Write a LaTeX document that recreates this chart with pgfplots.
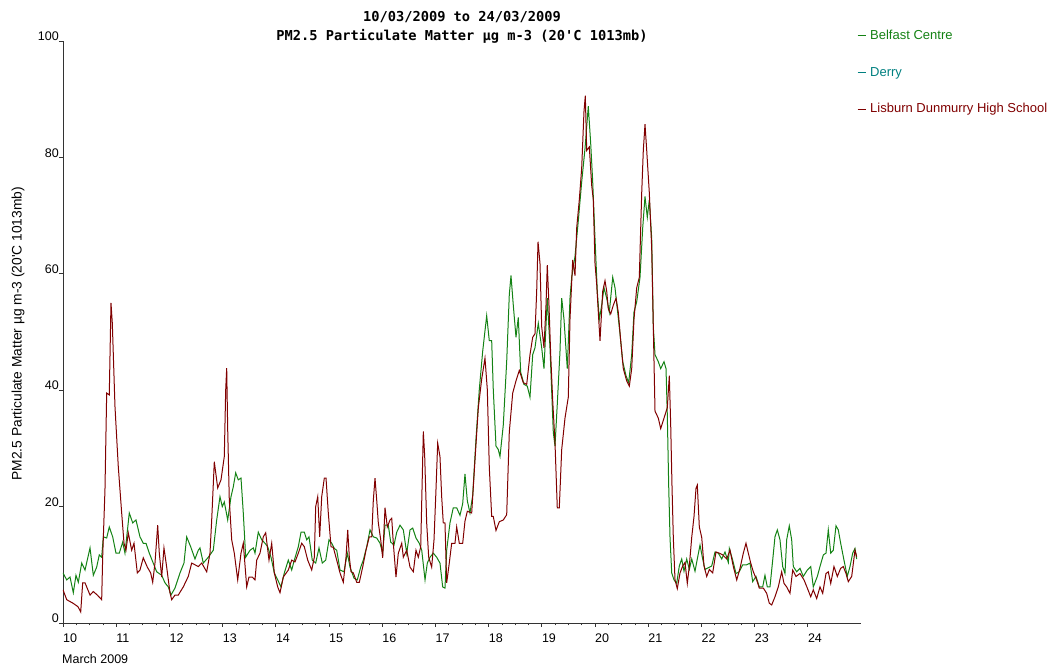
\documentclass[border=0pt]{standalone}
\usepackage{fontspec}
\usepackage{pgfplots}
\pgfplotsset{compat=1.18}
\newfontfamily\lab{Liberation Sans}
\newfontfamily\mono{DejaVu Sans Mono}
\definecolor{bgreen}{RGB}{20,130,20}
\definecolor{derryc}{RGB}{0,128,128}
\definecolor{lisb}{RGB}{128,0,0}
\begin{document}
\begin{tikzpicture}
\useasboundingbox (0,0) rectangle (1050pt,666pt);
\begin{axis}[
  scale only axis, width=798pt, height=582pt,
  at={(63pt,43pt)}, anchor=south west,
  xmin=10, xmax=25, ymin=0, ymax=100,
  axis x line=bottom, axis y line=left,
  axis line style={-, black!80, line width=0.8pt},
  tick style={black!80, line width=0.7pt},
  tick align=outside,
  xtick={10,...,24},
  minor x tick num=3,
  major tick length=4pt, minor tick length=2.5pt,
  ytick={0,20,...,100},
  /pgf/number format/assume math mode=true,
  ticklabel style={font=\lab\fontsize{12.5}{14}\selectfont},
  xticklabel style={anchor=north west, inner sep=0pt, yshift=-7pt},
  yticklabel style={anchor=south east, inner sep=0pt},
  title={10/03/2009 to 24/03/2009\\PM2.5 Particulate Matter µg m-3 (20'C 1013mb)},
  title style={font=\mono\bfseries\fontsize{13.7}{19}\selectfont, align=center, inner sep=0pt, at={(axis description cs:0.5,1)}, anchor=south, yshift=-8.5pt},
  ylabel={PM2.5 Particulate Matter µg m-3 (20'C 1013mb)},
  ylabel style={font=\lab\fontsize{13.8}{16}\selectfont, at={(axis description cs:-0.0564,0.497)}, anchor=center},
  legend style={at={(axis description cs:1,1)}, anchor=north west, draw=none, fill=none,
    font=\lab\fontsize{13}{15}\selectfont, row sep=23pt, inner sep=0pt, xshift=-4pt, yshift=12.5pt,
    nodes={inner sep=1.5pt}, /tikz/every odd column/.append style={column sep=2.5pt}},
  legend cell align=left,
  legend image code/.code={\draw[#1, line width=1pt] (0pt,0pt) -- (8pt,0pt);},
]
\addplot[bgreen, line width=1pt] coordinates {
(10.000,8.6)(10.070,7.4)(10.132,7.9)(10.194,5.2)(10.244,8.2)(10.288,7.0)(10.352,10.3)(10.414,9.1)(10.508,12.9)(10.570,8.2)(10.633,9.6)(10.682,11.7)(10.727,11.3)(10.758,14.8)(10.821,14.6)(10.870,16.5)(10.934,14.8)(10.996,12.0)(11.058,12.0)(11.122,13.9)(11.165,12.0)(11.246,18.9)(11.310,17.2)(11.372,17.7)(11.447,14.8)(11.509,13.7)(11.560,13.7)(11.622,12.0)(11.761,8.8)(11.855,8.2)(11.917,6.9)(11.979,6.2)(12.030,4.8)(12.105,6.0)(12.199,8.6)(12.274,10.3)(12.325,14.8)(12.400,13.1)(12.481,11.0)(12.543,12.5)(12.575,12.9)(12.637,10.3)(12.731,11.3)(12.825,12.5)(12.889,17.7)(12.951,21.7)(12.994,20.0)(13.032,20.8)(13.096,17.7)(13.158,21.7)(13.201,23.4)(13.246,25.8)(13.295,24.6)(13.346,24.9)(13.389,18.9)(13.434,11.3)(13.515,12.5)(13.577,12.9)(13.609,12.0)(13.671,15.6)(13.735,14.3)(13.797,13.7)(13.848,13.1)(13.910,11.3)(13.972,8.6)(14.036,7.4)(14.098,6.2)(14.160,8.6)(14.235,10.8)(14.299,9.1)(14.348,10.8)(14.423,13.1)(14.474,15.6)(14.536,15.6)(14.581,14.3)(14.624,14.8)(14.686,10.8)(14.750,10.3)(14.812,12.9)(14.874,10.3)(14.938,10.8)(15.000,14.3)(15.051,13.7)(15.100,12.8)(15.145,12.5)(15.207,9.1)(15.282,8.8)(15.344,12.0)(15.395,9.6)(15.470,7.7)(15.532,7.4)(15.596,9.6)(15.645,10.8)(15.709,13.1)(15.771,16.0)(15.833,14.8)(15.897,14.6)(15.959,13.7)(16.009,12.0)(16.053,16.8)(16.115,16.8)(16.160,13.9)(16.222,13.4)(16.273,15.6)(16.335,16.8)(16.397,16.0)(16.461,12.0)(16.523,16.0)(16.573,16.3)(16.635,14.6)(16.697,13.7)(16.743,12.5)(16.805,7.4)(16.848,10.3)(16.898,11.3)(16.961,12.0)(17.024,11.3)(17.086,10.3)(17.137,6.2)(17.180,6.0)(17.212,12.5)(17.274,17.2)(17.336,19.8)(17.400,19.8)(17.462,18.5)(17.513,20.5)(17.556,25.6)(17.600,21.0)(17.650,18.9)(17.701,21.9)(17.763,31.6)(17.825,40.1)(17.889,46.7)(17.964,52.8)(18.013,48.5)(18.058,48.5)(18.088,40.1)(18.139,30.4)(18.182,29.8)(18.214,28.6)(18.276,34.0)(18.340,44.9)(18.389,56.4)(18.421,59.7)(18.464,54.6)(18.515,49.1)(18.558,52.5)(18.603,43.1)(18.665,41.0)(18.727,40.7)(18.778,38.8)(18.829,46.1)(18.872,47.3)(18.934,51.5)(18.998,47.3)(19.041,43.7)(19.103,55.8)(19.154,47.3)(19.216,32.8)(19.248,30.4)(19.291,37.6)(19.342,46.7)(19.374,55.8)(19.417,52.2)(19.479,43.7)(19.530,55.8)(19.562,59.4)(19.624,63.0)(19.686,69.1)(19.750,75.8)(19.812,81.5)(19.874,88.8)(19.919,82.4)(19.956,76.0)(20.000,66.1)(20.043,57.0)(20.081,52.2)(20.126,54.6)(20.169,57.6)(20.220,55.8)(20.269,53.4)(20.333,59.4)(20.376,57.6)(20.419,54.0)(20.470,49.7)(20.521,44.9)(20.583,42.5)(20.633,41.3)(20.690,46.1)(20.733,53.4)(20.784,55.2)(20.846,59.4)(20.897,67.9)(20.940,73.3)(20.983,69.7)(21.021,72.7)(21.066,66.1)(21.096,50.9)(21.128,46.1)(21.190,44.9)(21.235,43.7)(21.297,44.9)(21.335,43.7)(21.359,35.8)(21.385,23.7)(21.410,14.7)(21.442,8.6)(21.485,7.4)(21.535,6.8)(21.585,9.8)(21.630,11.0)(21.673,8.9)(21.724,11.0)(21.773,9.2)(21.818,11.0)(21.880,8.9)(21.923,11.0)(21.974,13.4)(22.024,11.0)(22.068,9.2)(22.130,9.5)(22.194,9.8)(22.256,12.2)(22.318,12.0)(22.382,11.0)(22.444,12.2)(22.506,10.4)(22.525,12.8)(22.588,10.8)(22.650,8.5)(22.712,8.8)(22.776,10.0)(22.852,10.0)(22.914,10.3)(22.964,7.1)(23.026,8.0)(23.088,6.2)(23.152,6.2)(23.195,8.2)(23.239,6.2)(23.289,6.2)(23.340,10.8)(23.383,14.8)(23.427,16.0)(23.477,14.3)(23.528,9.7)(23.571,8.5)(23.603,14.3)(23.652,16.7)(23.697,14.3)(23.728,9.7)(23.791,8.8)(23.853,9.4)(23.915,8.0)(23.991,9.1)(24.055,9.7)(24.103,6.2)(24.179,8.0)(24.229,9.7)(24.292,11.7)(24.342,12.0)(24.385,16.0)(24.431,12.0)(24.479,12.5)(24.530,16.7)(24.573,16.0)(24.618,13.7)(24.680,10.8)(24.742,8.0)(24.793,9.7)(24.844,12.0)(24.887,12.8)(24.919,11.0)
};
\addlegendentry{\textcolor{bgreen}{Belfast Centre}}
\addlegendimage{derryc, line width=1pt}
\addlegendentry{\textcolor{derryc}{Derry}}
\addplot[lisb, line width=1pt] coordinates {
(10.000,5.7)(10.070,4.0)(10.188,3.4)(10.282,2.8)(10.333,1.9)(10.370,6.9)(10.414,6.9)(10.508,4.8)(10.570,5.4)(10.645,4.8)(10.727,4.0)(10.746,11.4)(10.789,22.9)(10.821,39.5)(10.870,39.2)(10.902,55.0)(10.927,51.5)(10.977,37.2)(11.039,26.9)(11.103,18.9)(11.147,13.7)(11.184,12.5)(11.227,15.5)(11.291,12.5)(11.335,13.7)(11.397,8.6)(11.447,9.1)(11.509,11.2)(11.585,9.6)(11.648,8.6)(11.686,7.0)(11.729,10.3)(11.780,16.8)(11.810,12.0)(11.855,7.9)(11.898,12.9)(11.949,9.6)(12.011,5.2)(12.043,4.0)(12.105,4.8)(12.167,4.8)(12.261,6.2)(12.355,8.0)(12.419,10.3)(12.481,10.0)(12.543,9.7)(12.607,10.3)(12.701,8.8)(12.763,12.0)(12.795,17.7)(12.844,27.7)(12.908,23.2)(12.970,24.6)(13.032,28.6)(13.058,40.0)(13.077,43.8)(13.096,33.2)(13.126,21.1)(13.171,14.3)(13.220,12.0)(13.284,7.4)(13.346,12.0)(13.389,13.7)(13.453,6.2)(13.496,7.9)(13.558,7.9)(13.609,7.4)(13.641,10.8)(13.703,12.0)(13.765,14.8)(13.810,15.5)(13.872,10.8)(13.923,13.7)(13.972,8.6)(14.036,6.2)(14.079,5.2)(14.141,7.9)(14.235,9.1)(14.299,10.8)(14.361,10.5)(14.423,12.0)(14.487,13.7)(14.536,13.1)(14.600,10.8)(14.675,9.1)(14.724,11.3)(14.750,20.0)(14.788,21.7)(14.825,14.8)(14.863,21.7)(14.912,24.9)(14.944,24.9)(14.987,18.9)(15.038,13.1)(15.081,13.0)(15.145,10.8)(15.207,8.6)(15.269,7.0)(15.320,11.3)(15.352,16.0)(15.382,11.3)(15.414,8.8)(15.457,8.6)(15.521,7.0)(15.570,7.0)(15.633,9.6)(15.695,12.5)(15.758,14.8)(15.803,14.8)(15.833,21.1)(15.865,24.9)(15.897,21.1)(15.927,17.2)(15.972,14.3)(16.009,11.2)(16.053,19.8)(16.096,16.5)(16.147,17.7)(16.179,18.0)(16.209,13.7)(16.259,7.9)(16.303,12.0)(16.367,13.7)(16.397,11.3)(16.461,12.5)(16.523,9.6)(16.585,8.8)(16.635,12.5)(16.679,11.3)(16.724,13.1)(16.748,22.9)(16.773,32.9)(16.799,28.6)(16.836,17.2)(16.874,11.3)(16.930,9.6)(16.974,14.3)(17.011,22.9)(17.043,30.9)(17.086,28.6)(17.118,21.7)(17.148,17.2)(17.180,17.2)(17.212,6.9)(17.261,10.3)(17.306,13.7)(17.368,13.7)(17.400,16.5)(17.449,13.7)(17.513,13.7)(17.556,17.5)(17.600,19.2)(17.682,18.9)(17.744,28.0)(17.807,37.0)(17.870,41.9)(17.932,45.5)(17.976,40.1)(18.013,26.8)(18.058,18.3)(18.088,18.3)(18.139,15.9)(18.201,17.4)(18.276,17.7)(18.340,18.6)(18.389,32.8)(18.453,39.5)(18.515,41.6)(18.577,43.4)(18.652,41.3)(18.716,41.0)(18.778,46.1)(18.829,49.1)(18.872,49.7)(18.904,57.0)(18.929,65.5)(18.966,61.8)(18.998,50.9)(19.041,47.3)(19.079,54.6)(19.103,61.5)(19.135,54.6)(19.167,46.1)(19.205,38.2)(19.248,31.0)(19.291,19.8)(19.329,19.8)(19.374,29.8)(19.436,35.2)(19.498,38.8)(19.530,52.2)(19.581,62.4)(19.624,59.7)(19.656,67.9)(19.705,72.7)(19.750,78.2)(19.793,87.9)(19.818,90.6)(19.844,81.2)(19.893,81.8)(19.938,75.2)(19.968,72.7)(20.000,61.8)(20.032,58.2)(20.062,53.4)(20.094,48.5)(20.145,57.0)(20.188,58.8)(20.220,57.0)(20.250,54.0)(20.295,53.1)(20.344,54.6)(20.395,55.8)(20.438,53.4)(20.483,48.5)(20.532,43.7)(20.596,41.6)(20.645,40.7)(20.690,43.7)(20.733,52.2)(20.784,57.6)(20.833,59.4)(20.878,73.9)(20.908,81.2)(20.940,85.7)(20.972,81.2)(21.021,73.9)(21.066,64.3)(21.096,50.9)(21.128,36.4)(21.190,35.2)(21.235,33.4)(21.297,35.2)(21.359,37.0)(21.397,42.5)(21.423,34.0)(21.447,23.7)(21.472,14.7)(21.504,7.4)(21.547,5.9)(21.598,8.6)(21.649,9.8)(21.692,10.4)(21.735,6.8)(21.773,9.8)(21.818,14.7)(21.861,18.3)(21.898,23.1)(21.923,23.7)(21.961,16.5)(22.006,14.7)(22.049,9.8)(22.100,8.0)(22.149,9.2)(22.212,8.6)(22.274,12.2)(22.336,12.0)(22.400,11.7)(22.476,11.0)(22.538,12.5)(22.600,9.7)(22.664,7.4)(22.726,9.4)(22.788,12.0)(22.838,13.7)(22.882,12.0)(22.927,10.3)(22.976,8.8)(23.039,7.4)(23.088,6.0)(23.164,6.0)(23.227,5.1)(23.276,3.4)(23.321,3.1)(23.383,4.5)(23.445,6.2)(23.509,8.8)(23.553,6.8)(23.603,6.2)(23.665,5.1)(23.716,9.1)(23.778,8.0)(23.853,8.5)(23.929,7.4)(23.991,6.0)(24.055,4.5)(24.103,5.7)(24.167,4.2)(24.229,6.2)(24.280,5.1)(24.342,8.5)(24.385,8.8)(24.431,6.8)(24.492,9.7)(24.555,8.0)(24.618,9.4)(24.667,9.7)(24.718,8.5)(24.761,7.1)(24.825,8.0)(24.887,12.5)(24.919,11.4)
};
\addlegendentry{\textcolor{lisb}{Lisburn Dunmurry High School}}
\end{axis}
\node[anchor=west, font=\lab\fontsize{12.5}{14}\selectfont, inner sep=0pt] at (62pt,7pt) {March 2009};
\end{tikzpicture}
\end{document}
